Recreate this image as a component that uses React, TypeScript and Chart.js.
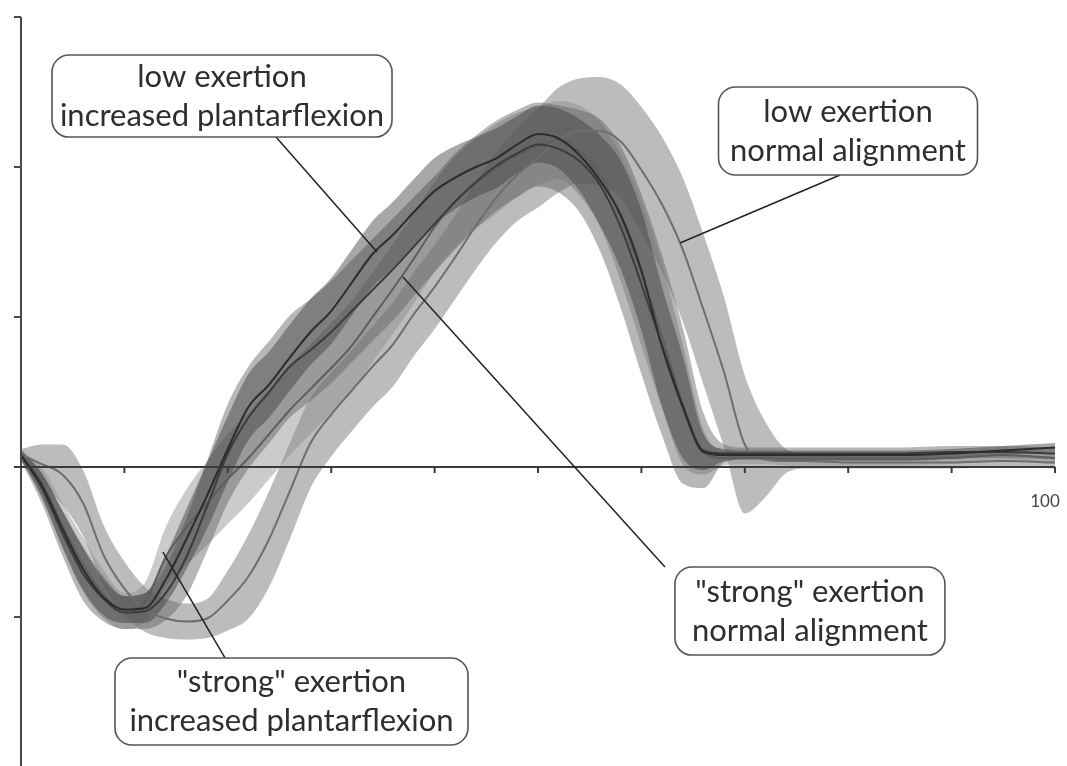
import React, { useEffect, useRef } from "react";
import { Chart, registerables } from "chart.js";

Chart.register(...registerables);

// % of cycle (shared x grid)
const cyclePct = [0, 2, 4, 6, 8, 10, 12, 14, 16, 18, 20, 22, 24, 26, 28, 30, 32, 34, 36, 38, 40, 42, 44, 46, 48, 50, 52, 54, 56, 58, 60, 62, 64, 66, 68, 70, 72, 74, 76, 80, 85, 90, 95, 100];

// low exertion, increased plantarflexion
const lowIpMean = [0.8, -1.2, -4.1, -6.8, -8.7, -9.5, -9.4, -7.5, -4.8, -1.9, 1.2, 4.0, 5.5, 7.3, 9.0, 10.4, 12.3, 14.2, 15.5, 17.0, 18.4, 19.3, 20.0, 20.6, 21.5, 22.2, 21.9, 20.8, 19.1, 16.8, 13.1, 8.0, 4.0, 1.0, 0.8, 0.8, 0.8, 0.8, 0.8, 0.8, 0.8, 0.9, 1.1, 1.3];
const lowIpSd = [0.3, 0.8, 1.2, 1.4, 1.2, 0.9, 1.0, 1.6, 2.0, 2.2, 2.2, 2.2, 2.2, 2.2, 2.2, 2.2, 2.2, 2.2, 2.2, 2.2, 2.2, 2.1, 2.0, 2.0, 1.9, 1.9, 2.0, 2.4, 3.0, 3.6, 4.0, 4.0, 3.4, 1.2, 0.4, 0.3, 0.3, 0.3, 0.3, 0.3, 0.3, 0.3, 0.3, 0.3];

// "strong" exertion, increased plantarflexion
const strongIpMean = [0.8, -1.4, -4.4, -7.1, -8.8, -9.7, -9.6, -8.4, -6.0, -2.6, 0.9, 3.3, 5.0, 6.7, 7.8, 9.0, 10.4, 11.8, 13.2, 14.7, 16.2, 17.7, 19.0, 20.1, 20.9, 21.5, 21.2, 20.4, 18.8, 16.0, 12.2, 8.1, 4.1, 1.1, 0.9, 0.9, 0.9, 0.9, 0.9, 0.9, 0.9, 1.0, 1.0, 0.9];
const strongIpSd = [0.4, 1.0, 1.5, 1.8, 1.5, 1.1, 1.2, 1.8, 2.6, 3.0, 3.3, 3.4, 3.4, 3.4, 3.4, 3.4, 3.4, 3.4, 3.4, 3.3, 3.2, 3.2, 3.1, 3.0, 2.9, 2.8, 2.9, 3.4, 4.4, 5.4, 6.0, 6.0, 5.2, 2.5, 0.6, 0.4, 0.4, 0.4, 0.4, 0.4, 0.4, 0.4, 0.4, 0.4];

// "strong" exertion, normal alignment
const strongNaMean = [0.8, -1.0, -3.9, -6.5, -8.5, -9.6, -9.0, -6.0, -4.0, -2.4, -0.8, 0.6, 2.2, 3.8, 5.2, 6.6, 8.1, 10.0, 11.9, 13.9, 16.0, 17.7, 18.9, 19.9, 20.8, 21.4, 21.8, 21.1, 19.5, 16.6, 12.9, 8.7, 4.2, 1.0, 0.6, 0.6, 0.6, 0.5, 0.5, 0.5, 0.5, 0.6, 0.8, 0.6];
const strongNaSd = [0.3, 1.0, 1.5, 1.8, 1.6, 1.2, 1.3, 2.0, 2.5, 2.8, 3.0, 3.0, 3.0, 3.0, 3.0, 3.0, 3.0, 3.0, 3.0, 3.0, 3.0, 3.0, 3.0, 3.0, 2.8, 2.6, 2.6, 3.0, 3.5, 4.2, 4.8, 4.8, 4.0, 1.5, 0.5, 0.4, 0.4, 0.4, 0.4, 0.4, 0.4, 0.4, 0.4, 0.4];

// low exertion, normal alignment
const lowNaMean = [0.8, 0.2, -0.5, -2.4, -5.9, -8.1, -9.5, -10.1, -10.3, -10.1, -8.9, -7.3, -4.8, -1.6, 1.6, 3.5, 5.1, 6.7, 8.2, 10.2, 12.0, 14.0, 16.1, 18.0, 19.5, 20.6, 21.8, 22.4, 22.4, 21.7, 19.8, 17.5, 14.5, 10.5, 6.3, 1.5, 0.5, 0.4, 0.4, 0.3, 0.3, 0.3, 0.4, 0.3];
const lowNaSd = [0.4, 1.3, 2.0, 2.2, 2.0, 1.8, 1.5, 1.3, 1.2, 1.3, 2.0, 2.8, 3.2, 3.2, 3.0, 2.8, 2.7, 2.7, 2.8, 2.8, 2.8, 2.8, 2.9, 3.0, 3.1, 3.3, 3.5, 3.5, 3.6, 3.8, 4.2, 4.5, 4.8, 5.0, 5.0, 4.6, 2.5, 0.8, 0.5, 0.4, 0.4, 0.4, 0.4, 0.4];

// axes
const yTickValues = [30, 20, 10, 0, -10, -20];
const xTickValues = [10, 20, 30, 40, 50, 60, 70, 80, 90, 100];
const xTickLabels = ["", "", "", "", "", "", "", "", "", "100"];

// callouts (data coordinates)
const noteText = [
  ["low exertion", "increased plantarflexion"],
  ["low exertion", "normal alignment"],
  ['"strong" exertion', "normal alignment"],
  ['"strong" exertion', "increased plantarflexion"],
];
const noteCenter = [[19.44, 24.73], [79.98, 22.4], [76.3, -9.6], [26.16, -15.63]];
const notePointerFrom = [[24.66, 22.0], [79.21, 19.47], [62.28, -6.67], [19.73, -12.73]];
const notePointerTo = [[34.43, 14.33], [63.73, 14.93], [36.94, 12.67], [13.73, -5.67]];
const noteBoxSize = [[340, 82], [259, 88], [270, 88], [353, 87]];

const axesAndNotes = {
  id: "axesAndNotes",
  afterDatasetsDraw(chart: any) {
    const ctx = chart.ctx as CanvasRenderingContext2D;
    const xs = chart.scales.x;
    const ys = chart.scales.y;
    const x0 = xs.getPixelForValue(0);
    const y0 = ys.getPixelForValue(0);
    ctx.save();
    // y axis
    ctx.strokeStyle = "#4a4a4a";
    ctx.lineWidth = 2;
    ctx.beginPath();
    ctx.moveTo(x0, ys.getPixelForValue(30));
    ctx.lineTo(x0, chart.height);
    ctx.stroke();
    yTickValues.forEach((v) => {
      const py = ys.getPixelForValue(v);
      ctx.beginPath();
      ctx.moveTo(x0 - 7, py);
      ctx.lineTo(x0, py);
      ctx.stroke();
    });
    // x axis
    ctx.strokeStyle = "#3a3a3a";
    ctx.beginPath();
    ctx.moveTo(x0 - 7, y0);
    ctx.lineTo(xs.getPixelForValue(100), y0);
    ctx.stroke();
    ctx.font = "17px Lato";
    ctx.fillStyle = "#444";
    ctx.textAlign = "center";
    ctx.textBaseline = "alphabetic";
    xTickValues.forEach((v, i) => {
      const px = xs.getPixelForValue(v);
      ctx.beginPath();
      ctx.moveTo(px, y0);
      ctx.lineTo(px, y0 + 6);
      ctx.stroke();
      if (xTickLabels[i]) ctx.fillText(xTickLabels[i], px - 10, y0 + 40);
    });

    // callouts
    noteText.forEach((lines, i) => {
      ctx.strokeStyle = "#222";
      ctx.lineWidth = 1.5;
      ctx.beginPath();
      ctx.moveTo(xs.getPixelForValue(notePointerFrom[i][0]), ys.getPixelForValue(notePointerFrom[i][1]));
      ctx.lineTo(xs.getPixelForValue(notePointerTo[i][0]), ys.getPixelForValue(notePointerTo[i][1]));
      ctx.stroke();
    });
    noteText.forEach((lines, i) => {
      const cx = xs.getPixelForValue(noteCenter[i][0]);
      const cy = ys.getPixelForValue(noteCenter[i][1]);
      const [w, h] = noteBoxSize[i];
      ctx.beginPath();
      (ctx as any).roundRect(cx - w / 2, cy - h / 2, w, h, 17);
      ctx.fillStyle = "#ffffff";
      ctx.fill();
      ctx.strokeStyle = "#555";
      ctx.lineWidth = 1.6;
      ctx.stroke();
      ctx.fillStyle = "#2e2e2e";
      ctx.font = "31px Lato";
      ctx.textAlign = "center";
      ctx.textBaseline = "alphabetic";
      ctx.fillText(lines[0], cx, cy - 9);
      ctx.fillText(lines[1], cx, cy + 30);
    });
    ctx.restore();
  },
};

function pts(vals: number[]) {
  return cyclePct.map((x, i) => ({ x, y: vals[i] }));
}

function bandSets(mean: number[], sd: number[], color: string, order: number) {
  return [
    {
      data: pts(mean.map((m, i) => m + sd[i])),
      fill: "+1",
      backgroundColor: color,
      borderWidth: 0,
      pointRadius: 0,
      order,
      cubicInterpolationMode: "monotone",
    },
    {
      data: pts(mean.map((m, i) => m - sd[i])),
      fill: false,
      borderWidth: 0,
      pointRadius: 0,
      order,
      cubicInterpolationMode: "monotone",
    },
  ];
}

function lineSet(mean: number[], color: string, order: number) {
  return {
    data: pts(mean),
    fill: false,
    borderColor: color,
    borderWidth: 2,
    pointRadius: 0,
    order,
    cubicInterpolationMode: "monotone",
  };
}

export default function App() {
  const ref = useRef<HTMLCanvasElement>(null);
  useEffect(() => {
    if (!ref.current) return;
    const chart = new Chart(ref.current, {
      type: "line",
      data: {
        datasets: [
          ...bandSets(lowNaMean, lowNaSd, "rgba(165,165,165,0.75)", 20),
          ...bandSets(strongNaMean, strongNaSd, "rgba(140,140,140,0.45)", 19),
          ...bandSets(strongIpMean, strongIpSd, "rgba(95,95,95,0.45)", 18),
          ...bandSets(lowIpMean, lowIpSd, "rgba(60,60,60,0.45)", 17),
          lineSet(lowNaMean, "#6e6e6e", 4),
          lineSet(strongNaMean, "#5e5e5e", 3),
          lineSet(strongIpMean, "#3c3c3c", 2),
          lineSet(lowIpMean, "#2c2c2c", 1),
        ] as any,
      },
      options: {
        responsive: false,
        animation: false,
        events: [],
        layout: { padding: { left: 21, right: 12, top: 17, bottom: 0 } },
        plugins: { legend: { display: false }, tooltip: { enabled: false } },
        scales: {
          x: { type: "linear", min: 0, max: 100, display: false },
          y: { min: -19.93, max: 30, display: false },
        },
      },
      plugins: [axesAndNotes],
    });
    return () => chart.destroy();
  }, []);
  return (
    <div style={{ position: "fixed", left: 0, top: 0, width: 1067, height: 766, background: "#fff" }}>
      <canvas ref={ref} width={1067} height={766} />
    </div>
  );
}
